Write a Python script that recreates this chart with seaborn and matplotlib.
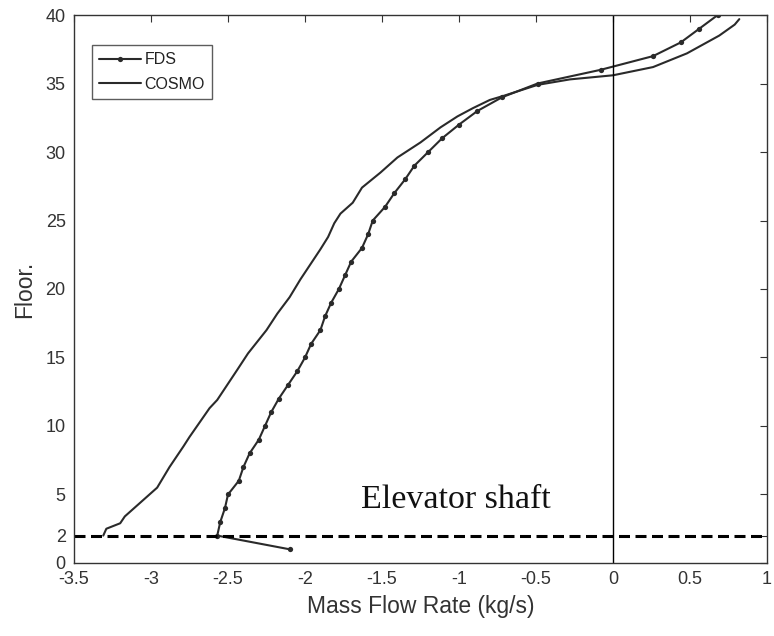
import numpy as np
import pandas as pd
import matplotlib
matplotlib.use("Agg")
import matplotlib.pyplot as plt
import seaborn as sns

# FDS results, one point per floor
fds_floor = list(range(1, 41))
fds_flow = [-2.10, -2.57, -2.55, -2.52, -2.50, -2.43, -2.40, -2.36, -2.30, -2.26,
            -2.22, -2.17, -2.11, -2.05, -2.00, -1.96, -1.90, -1.87, -1.83, -1.78,
            -1.74, -1.70, -1.63, -1.59, -1.56, -1.48, -1.42, -1.35, -1.29, -1.20,
            -1.11, -1.00, -0.88, -0.72, -0.49, -0.08, 0.26, 0.44, 0.56, 0.68]

# COSMO results (continuous curve)
cosmo_floor = [2.0, 2.5, 2.9, 3.4, 4.4, 5.5, 7.0, 8.5, 9.2, 11.3, 11.9, 14.1, 15.3,
               17.0, 18.2, 19.4, 20.7, 22.9, 23.8, 24.8, 25.5, 26.3, 27.4, 28.5,
               29.6, 30.7, 31.8, 32.6, 33.2, 33.8, 34.1, 34.9, 35.3, 35.6, 36.2,
               37.2, 38.5, 39.3, 39.7]
cosmo_flow = [-3.31, -3.29, -3.20, -3.17, -3.07, -2.96, -2.88, -2.79, -2.75, -2.62,
              -2.57, -2.44, -2.37, -2.25, -2.18, -2.10, -2.03, -1.90, -1.85, -1.81,
              -1.77, -1.69, -1.63, -1.51, -1.40, -1.25, -1.12, -1.01, -0.91, -0.80,
              -0.71, -0.49, -0.28, 0.00, 0.26, 0.48, 0.69, 0.79, 0.82]

x_ticks = [-3.5, -3, -2.5, -2, -1.5, -1, -0.5, 0, 0.5, 1]
x_tick_labels = ['-3.5', '-3', '-2.5', '-2', '-1.5', '-1', '-0.5', '0', '0.5', '1']
y_ticks = [0, 2, 5, 10, 15, 20, 25, 30, 35, 40]

fds = pd.DataFrame({'flow': fds_flow, 'floor': fds_floor})
cosmo = pd.DataFrame({'flow': cosmo_flow, 'floor': cosmo_floor})

sns.set_style('white')
plt.rcParams['font.family'] = ['Liberation Sans', 'DejaVu Sans']

fig = plt.figure(figsize=(7.74, 6.36), dpi=100)
ax = fig.add_axes([0.0956, 0.1148, 0.8954, 0.8616])

line_col = '#2a2a2a'
sns.lineplot(data=fds, x='flow', y='floor', sort=False, estimator=None, ax=ax,
             color=line_col, lw=1.5, marker='o', markersize=3.8,
             markeredgewidth=0, label='FDS')
sns.lineplot(data=cosmo, x='flow', y='floor', sort=False, estimator=None, ax=ax,
             color=line_col, lw=1.5, label='COSMO')

# reference lines
ax.axvline(0, color='black', lw=1.0)
ax.axhline(2, color='black', lw=2.2, ls=(0, (3.6, 1.8)))

ax.text(-1.02, 4.6, 'Elevator shaft', family=['Liberation Serif', 'DejaVu Serif'],
        fontsize=24.5, ha='center', va='center', color='#111111')

ax.set_xlim(-3.5, 1)
ax.set_ylim(0, 40)
ax.set_xticks(x_ticks)
ax.set_xticklabels(x_tick_labels)
ax.set_yticks(y_ticks)
ax.tick_params(direction='in', length=5, width=0.8, top=True, right=True,
               labelsize=13, labelcolor='#333333', color='#333333', pad=6)
for s in ax.spines.values():
    s.set_color('#333333')
    s.set_linewidth(1.0)

ax.set_xlabel('Mass Flow Rate (kg/s)', fontsize=16.5, color='#333333', labelpad=5)
ax.set_ylabel('Floor.', fontsize=16.5, color='#333333', labelpad=7)

leg = ax.legend(loc='upper left', bbox_to_anchor=(0.026, 0.945), borderaxespad=0,
                fontsize=11.5, frameon=True, fancybox=False, edgecolor='#333333',
                handlelength=2.6, borderpad=0.45, labelspacing=0.6, handletextpad=0.25)
leg.get_frame().set_linewidth(1.0)
for t in leg.get_texts():
    t.set_color('#222222')

fig.savefig('out.png', dpi=100)
